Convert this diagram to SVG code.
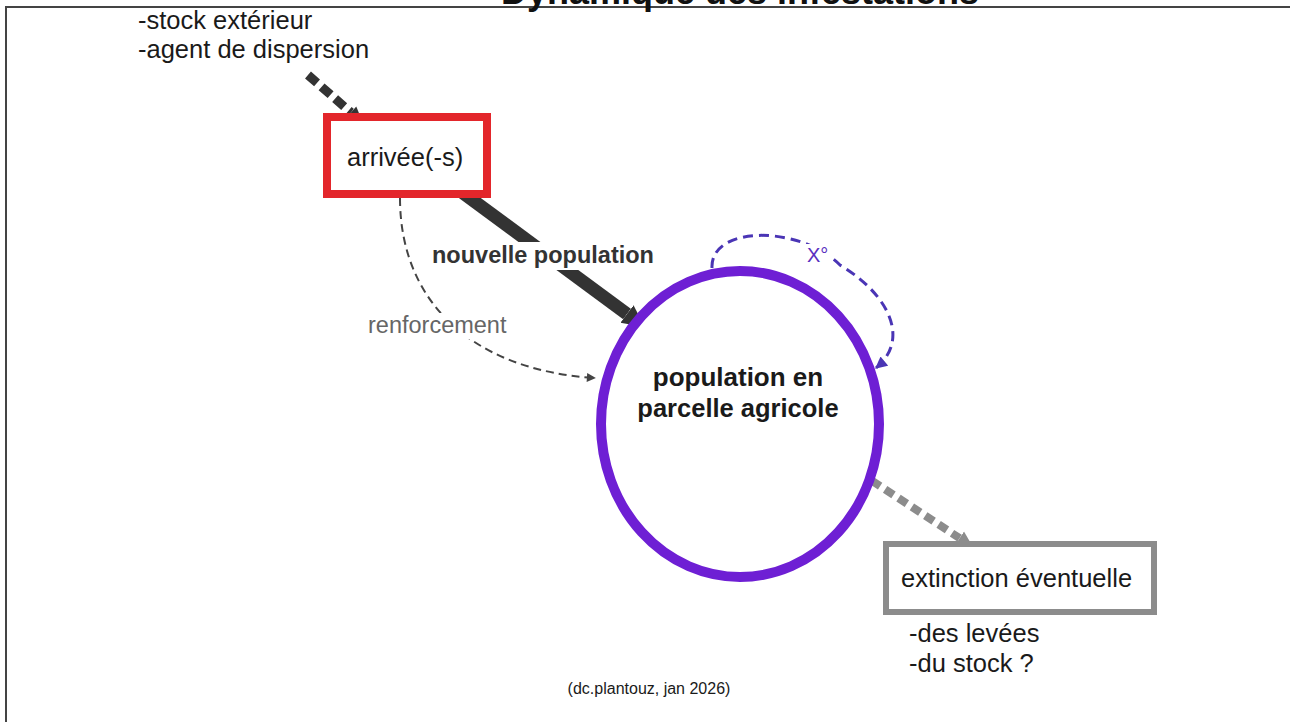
<svg xmlns="http://www.w3.org/2000/svg" width="1290" height="722" viewBox="0 0 1290 722">
  <style>
    text { font-family: "Liberation Sans", Arial, sans-serif; }
    .lbl { font-size: 25.5px; fill: #1a1a1a; }
    .bold { font-weight: bold; }
    .note { font-size: 16px; fill: #1a1a1a; }
    .bg { fill: #ffffff; stroke: none; }
  </style>
  <defs>
    <marker id="headDark" viewBox="0 0 10 10" refX="0" refY="5" markerUnits="userSpaceOnUse" markerWidth="22" markerHeight="28" orient="auto">
      <path d="M0,0 L10,5 L0,10 z" fill="#333333"/>
    </marker>
    <marker id="headDarkSmall" viewBox="0 0 10 10" refX="0" refY="5" markerUnits="userSpaceOnUse" markerWidth="16" markerHeight="22" orient="auto">
      <path d="M0,0 L10,5 L0,10 z" fill="#333333"/>
    </marker>
    <marker id="headGray" viewBox="0 0 10 10" refX="0" refY="5" markerUnits="userSpaceOnUse" markerWidth="16" markerHeight="22" orient="auto">
      <path d="M0,0 L10,5 L0,10 z" fill="#8c8c8c"/>
    </marker>
    <marker id="headThin" viewBox="0 0 10 10" refX="9" refY="5" markerUnits="userSpaceOnUse" markerWidth="11" markerHeight="9" orient="auto">
      <path d="M0,0 L10,5 L0,10 z" fill="#444444"/>
    </marker>
    <marker id="headLoop" viewBox="0 0 10 10" refX="9" refY="5" markerUnits="userSpaceOnUse" markerWidth="13" markerHeight="12" orient="auto">
      <path d="M0,0 L10,5 L0,10 z" fill="#4a35b5"/>
    </marker>
  </defs>

  <rect x="0" y="0" width="1290" height="722" fill="#ffffff"/>

  <!-- page frame and heading -->
  <rect x="6" y="7" width="1310" height="740" fill="none" stroke="#444444" stroke-width="2"/>
  <text x="740" y="4" text-anchor="middle" class="bold" font-size="36" fill="#111111">Dynamique des infestations</text>

  <!-- connectors -->
  <g id="connectors" fill="none">
    <!-- external supply into arrivals -->
    <line x1="308" y1="75" x2="351" y2="112.5" stroke="#333333" stroke-width="9" stroke-dasharray="12 6" marker-end="url(#headDarkSmall)"/>
    <!-- arrivals to field population -->
    <line x1="463" y1="193" x2="627" y2="314" stroke="#333333" stroke-width="13" marker-end="url(#headDark)"/>
    <!-- reinforcement arc -->
    <path d="M400,198 C400,300 470,370 595,378" stroke="#444444" stroke-width="2" stroke-dasharray="8 5" marker-end="url(#headThin)"/>
    <!-- self-loop X° -->
    <path d="M712,268 C710,225 800,225 840,265 C890,295 910,340 876,368" stroke="#4a35b5" stroke-width="3" stroke-dasharray="10 6" marker-end="url(#headLoop)"/>
    <!-- towards possible extinction -->
    <line x1="845" y1="463" x2="959.6" y2="538.2" stroke="#8c8c8c" stroke-width="8" stroke-dasharray="10 6" marker-end="url(#headGray)"/>

    <!-- connector labels -->
    <rect class="bg" x="428" y="242" width="230" height="28"/>
    <text x="432" y="263" class="bold" font-size="23.5" fill="#333333">nouvelle population</text>
    <rect class="bg" x="364" y="313" width="147" height="26"/>
    <text x="368" y="333" font-size="23.5" fill="#666666">renforcement</text>
    <rect class="bg" x="805" y="244" width="28" height="20"/>
    <text x="807" y="262" font-size="20" fill="#5a30c0">X°</text>
  </g>

  <!-- sources -->
  <g id="sources">
    <text x="138" y="29" class="lbl">-stock extérieur</text>
    <text x="138" y="58" class="lbl">-agent de dispersion</text>
  </g>

  <g id="arrivees">
    <rect x="327" y="117" width="160" height="77" fill="#ffffff" stroke="#e3262b" stroke-width="8"/>
    <text x="347" y="166" class="lbl" font-size="25">arrivée(-s)</text>
  </g>

  <g id="population">
    <ellipse cx="740" cy="424" rx="139" ry="153" fill="#ffffff" stroke="#6e1fd4" stroke-width="10"/>
    <text x="738" y="386" text-anchor="middle" class="bold" font-size="26" fill="#1a1a1a">population en</text>
    <text x="738" y="417" text-anchor="middle" class="bold" font-size="25.5" fill="#1a1a1a">parcelle agricole</text>
  </g>

  <g id="extinction">
    <rect x="886" y="544" width="268" height="68" fill="#ffffff" stroke="#8c8c8c" stroke-width="6"/>
    <text x="901" y="587" class="lbl">extinction éventuelle</text>
    <text x="909" y="642" class="lbl">-des levées</text>
    <text x="909" y="672" class="lbl">-du stock ?</text>
  </g>

  <g id="credit">
    <text x="649" y="694" text-anchor="middle" class="note">(dc.plantouz, jan 2026)</text>
  </g>
</svg>
